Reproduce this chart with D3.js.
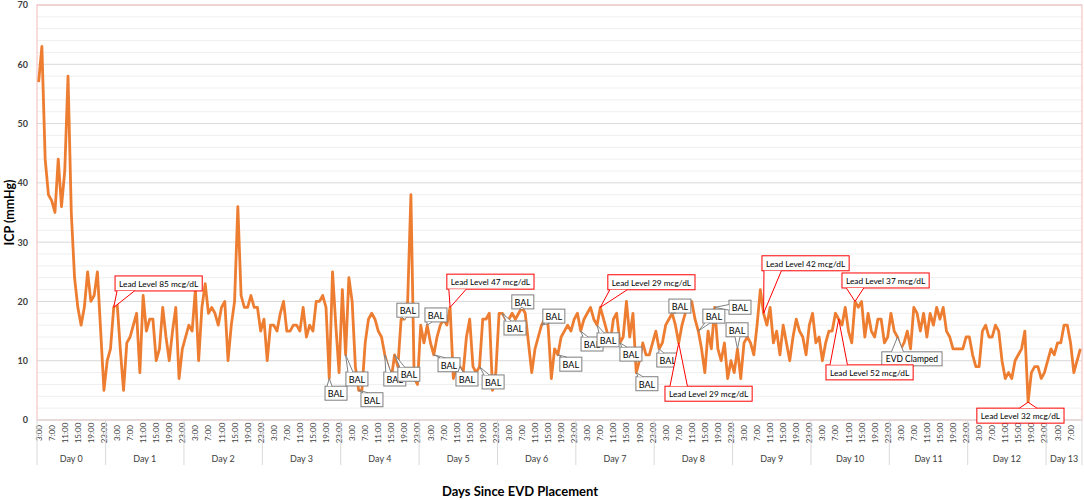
<!DOCTYPE html>
<html>
<head>
<meta charset="utf-8">
<script src="https://cdn.jsdelivr.net/npm/d3@7"></script>
<style>
  html, body { margin: 0; padding: 0; background: #ffffff; }
  svg { display: block; font-family: Lato, "Open Sans", "Liberation Sans", sans-serif; }
</style>
</head>
<body>
<svg id="chart" width="1084" height="500"></svg>
<script>
// ---------------- DATA ----------------
const dayLabels = ["Day 0","Day 1","Day 2","Day 3","Day 4","Day 5","Day 6","Day 7","Day 8","Day 9","Day 10","Day 11","Day 12","Day 13"];
const firstHour = 3;            // Day 0 starts at 3:00
const hourTickStep = 4;         // label every 4 hours: 3:00, 7:00, ...
const yTicks = [0,10,20,30,40,50,60,70];

// hourly ICP readings (mmHg), Day 0 3:00 -> Day 13 10:00
const icp = [
  57,63,44,38,37,35,44,36,42,58,35,24,19,16,19,25,20,21,25,15,5,
  10,12,19,20,12,5,13,14,16,18,8,21,15,17,17,10,12,19,14,10,15,19,7,12,
  14,16,15,22,10,19,23,18,19,18,16,19,20,10,16,20,36,21,19,19,21,19,19,15,
  17,10,16,16,15,18,20,15,15,16,16,15,19,14,16,15,20,20,21,19,7,25,16,8,
  22,11,24,20,9,5,5,13,17,18,17,15,14,11,9,7,11,9,17,17,20,38,7,6,
  16,13,16,13,11,14,16,17,16,19,7,9,9,8,14,17,9,8,9,17,17,18,5,8,
  18,18,17,17,18,17,18,19,18,13,8,12,14,16,17,16,7,12,11,14,15,16,15,17,
  18,15,17,18,19,17,16,19,17,15,13,17,18,13,14,20,14,18,8,10,13,11,11,13,
  15,12,13,16,17,18,16,13,16,18,19,20,17,15,12,8,15,12,19,12,10,13,7,10,
  8,12,7,13,14,13,11,16,22,18,16,19,13,15,11,16,13,10,14,17,15,14,11,16,
  18,13,14,10,13,15,15,18,17,16,19,15,13,20,19,20,14,18,15,14,17,17,13,14,
  18,15,14,12,13,15,12,19,18,15,18,14,18,16,19,17,19,15,14,12,12,12,12,14,
  14,11,9,9,15,16,14,14,16,15,10,7,8,7,10,11,12,15,3,8,9,9,7,8,
  10,12,11,13,13,16,16,13,8,10,12
];

// red callouts: text + index of the reading they point at
const leadTexts = ["Lead Level 85 mcg/dL","Lead Level 47 mcg/dL","Lead Level 29 mcg/dL","Lead Level 29 mcg/dL",
                   "Lead Level 42 mcg/dL","Lead Level 37 mcg/dL","Lead Level 52 mcg/dL","Lead Level 32 mcg/dL"];
const leadIdx   = [23,126,172,196,222,250,245,303];
// grey callouts
const noteTexts = ["EVD Clamped"];
const noteIdx   = [263];
const balIdx    = [89,94,98,106,109,112,119,121,129,135,142,148,154,159,166,171,178,183,190,194,202,207,214];

// ---------------- LAYOUT (label placement, in data space: [hour index, ICP]) ----------------
const leadBoxAt = [[23.9,24.3],[125.5,24.6],[174.8,24.5],[192.3,5.7],[222.0,27.7],[246.5,24.8],[241.6,9.3],[287.8,2.0]];
const noteBoxAt = [[258.7,11.5]];
const balBoxAt  = [[88.2,5.7],[94.6,8.1],[99.2,4.6],[106.2,8.1],[110.5,8.9],[110.2,19.7],[118.8,18.9],[122.8,10.5],
                   [128.3,8.1],[136.3,7.6],[143.0,16.7],[145.4,21.1],[154.9,18.7],[160.1,10.6],[166.6,14.0],[171.5,14.7],
                   [178.5,12.3],[183.4,7.3],[189.8,11.3],[193.5,20.4],[203.9,18.7],[211.9,20.2],[211.0,16.4]];

// ---------------- CHART ----------------
const svg = d3.select("#chart");
const L = 37, R = 1082, T = 5, B = 420;
const N = icp.length;

const x = d3.scaleLinear().domain([0, N]).range([L, R]);
const y = d3.scaleLinear().domain([0, 70]).range([B, T]);
const px = i => x(i + 0.5);

// minor grid
svg.append("g").selectAll("line")
  .data(d3.range(0, 71, 2).filter(v => v % 10 !== 0))
  .join("line")
  .attr("x1", L).attr("x2", R)
  .attr("y1", d => y(d)).attr("y2", d => y(d))
  .attr("stroke", "#efefef").attr("stroke-width", 1);

// major grid
svg.append("g").selectAll("line")
  .data(yTicks.filter(v => v > 0))
  .join("line")
  .attr("x1", L).attr("x2", R)
  .attr("y1", d => y(d)).attr("y2", d => y(d))
  .attr("stroke", "#d9d9d9").attr("stroke-width", 1);

// plot border (pinkish)
svg.append("rect")
  .attr("x", L).attr("y", T).attr("width", R - L).attr("height", B - T)
  .attr("fill", "none").attr("stroke", "#f3b9b9").attr("stroke-width", 1);

// y axis
const yAxis = d3.axisLeft(y).tickValues(yTicks).tickSize(0).tickPadding(9);
const gy = svg.append("g").attr("transform", `translate(${L},0)`).call(yAxis);
gy.select(".domain").remove();
gy.selectAll("text").attr("font-size", 9).attr("font-weight", 700).attr("fill", "#404040")
  .attr("font-family", "Lato, sans-serif");

// x axis line
svg.append("line").attr("x1", L).attr("x2", R).attr("y1", B).attr("y2", B)
  .attr("stroke", "#d9d9d9").attr("stroke-width", 1);

// hour labels
const hourOf = i => (i + firstHour) % 24;
const tickIdx = d3.range(N).filter(i => hourOf(i) % hourTickStep === firstHour % hourTickStep);
svg.append("g").selectAll("text")
  .data(tickIdx)
  .join("text")
  .attr("transform", d => `translate(${px(d)},433) rotate(-90)`)
  .attr("text-anchor", "middle")
  .attr("dominant-baseline", "central")
  .attr("font-size", 8).attr("fill", "#404040")
  .text(d => hourOf(d) + ":00");

// day groups
const dayStart = dayLabels.map((_, k) => k === 0 ? 0 : k * 24 - firstHour);
const dayEnd = dayLabels.map((_, k) => Math.min(N, (k + 1) * 24 - firstHour));
const seps = dayStart.concat([N]);
svg.append("g").selectAll("line")
  .data(seps)
  .join("line")
  .attr("x1", d => x(d)).attr("x2", d => x(d))
  .attr("y1", B).attr("y2", 465)
  .attr("stroke", "#d9d9d9").attr("stroke-width", 1);
svg.append("g").selectAll("text")
  .data(dayLabels)
  .join("text")
  .attr("x", (d, k) => (x(dayStart[k]) + x(dayEnd[k])) / 2)
  .attr("y", 458)
  .attr("text-anchor", "middle").attr("dominant-baseline", "central")
  .attr("font-size", 9).attr("fill", "#404040")
  .text(d => d);

// axis titles
svg.append("text")
  .attr("transform", `translate(9,${(T + B) / 2}) rotate(-90)`)
  .attr("text-anchor", "middle").attr("dominant-baseline", "central")
  .attr("font-size", 12.5).attr("font-weight", 700).attr("fill", "#000")
  .text("ICP (mmHg)");
svg.append("text")
  .attr("x", 520).attr("y", 491)
  .attr("text-anchor", "middle").attr("dominant-baseline", "central")
  .attr("font-size", 13).attr("font-weight", 700).attr("fill", "#000")
  .text("Days Since EVD Placement");

// the ICP line
const line = d3.line().x((d, i) => px(i)).y(d => y(d));
svg.append("path")
  .datum(icp)
  .attr("d", line)
  .attr("fill", "none")
  .attr("stroke", "#ED7D31")
  .attr("stroke-width", 2.8)
  .attr("stroke-linejoin", "round");

// ---------------- CALLOUTS ----------------
const clamp = (v, a, b) => Math.max(a, Math.min(b, v));
function wedgePath(tip, b) {
  const cx = b.x + b.w / 2, cy = b.y + b.h / 2;
  const dx = tip[0] - cx, dy = tip[1] - cy;
  let p1, p2;
  if (Math.abs(dy) / (b.h / 2) >= Math.abs(dx) / (b.w / 2)) {
    const ey = dy > 0 ? b.y + b.h : b.y;
    const bw = Math.max(5, b.w * 0.2);
    const bc = clamp(tip[0], b.x + bw / 2 + 2, b.x + b.w - bw / 2 - 2);
    p1 = [bc - bw / 2, ey]; p2 = [bc + bw / 2, ey];
  } else {
    const ex = dx > 0 ? b.x + b.w : b.x;
    const bh = Math.max(4, b.h * 0.4);
    const bc = clamp(tip[1], b.y + bh / 2 + 2, b.y + b.h - bh / 2 - 2);
    p1 = [ex, bc - bh / 2]; p2 = [ex, bc + bh / 2];
  }
  return `M${p1[0]},${p1[1]}L${tip[0]},${tip[1]}L${p2[0]},${p2[1]}`;
}

function callout(text, idx, at, color, h, fontSize, fixedW) {
  const g = svg.append("g");
  const bx = x(at[0]), by = y(at[1]);
  const t = g.append("text")
    .attr("font-size", fontSize).attr("fill", "#000")
    .attr("dominant-baseline", "central").attr("text-anchor", "middle")
    .text(text);
  const tw = t.node().getComputedTextLength();
  const w = fixedW || (tw + 8);
  const box = { x: bx, y: by, w: w, h: h };
  const tip = [px(idx), y(icp[idx])];
  g.insert("rect", "text")
    .attr("x", box.x).attr("y", box.y).attr("width", box.w).attr("height", box.h)
    .attr("fill", "#fff").attr("stroke", color).attr("stroke-width", 1);
  g.insert("path", "text")
    .attr("d", wedgePath(tip, box))
    .attr("fill", "#fff").attr("stroke", color).attr("stroke-width", 1)
    .attr("stroke-linejoin", "miter");
  t.attr("x", box.x + box.w / 2).attr("y", box.y + box.h / 2 + 0.5);
}

balIdx.forEach((idx, k) => callout("BAL", idx, balBoxAt[k], "#7f7f7f", 14, 9, 22));
noteTexts.forEach((txt, k) => callout(txt, noteIdx[k], noteBoxAt[k], "#7f7f7f", 14, 8.5));
leadTexts.forEach((txt, k) => callout(txt, leadIdx[k], leadBoxAt[k], "#ff0000", 15, 8.3));
</script>
</body>
</html>
